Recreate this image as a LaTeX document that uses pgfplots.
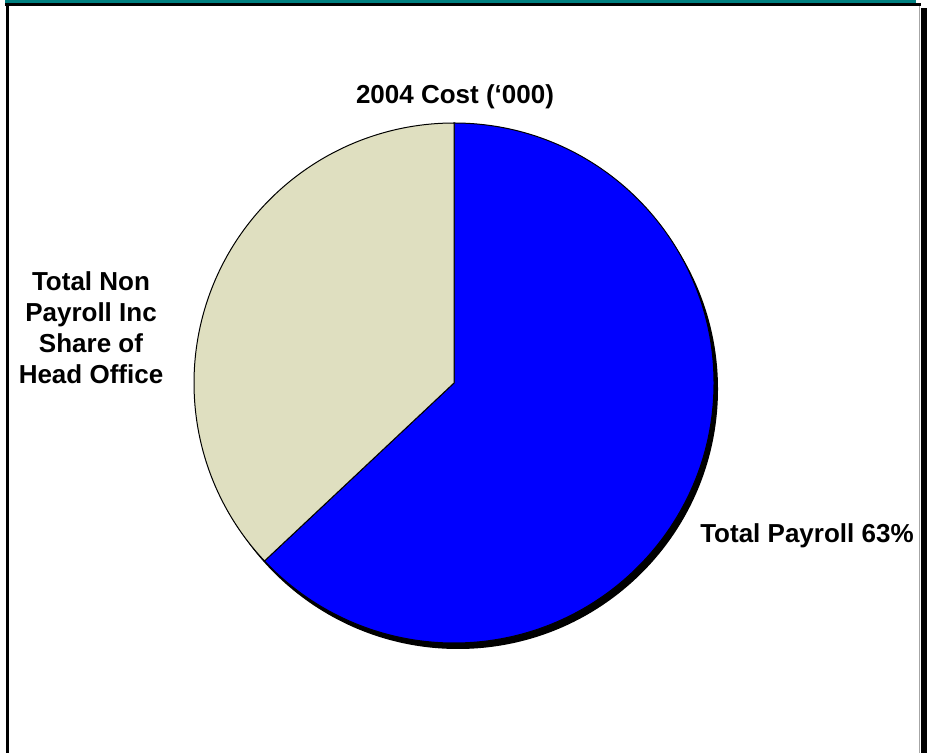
\documentclass[border=0pt]{standalone}
\usepackage{pgfplots}
\pgfplotsset{compat=1.18}
\usepackage{pgfplotstable}
\usepackage{fontspec}
\setmainfont{Liberation Sans}
\definecolor{pieblue}{RGB}{0,0,255}
\definecolor{piebeige}{RGB}{223,223,192}
\definecolor{frameteal}{RGB}{0,128,128}
\pgfplotstableread{
label value
Payroll 63
NonPayroll 37
}\piedata
\begin{document}
\begin{tikzpicture}
\pgfplotstablegetelem{0}{value}\of\piedata
\pgfmathsetmacro\va{\pgfplotsretval}
\pgfplotstablegetelem{1}{value}\of\piedata
\pgfmathsetmacro\vb{\pgfplotsretval}
\pgfmathsetmacro\endA{90-\va*3.6}
\pgfmathsetmacro\endB{\endA-\vb*3.6}
\begin{axis}[
  width=698.25pt, height=564.75pt, scale only axis,
  xmin=0, xmax=931, ymin=0, ymax=753,
  hide axis, clip=false,
]
\coordinate (bl) at (axis cs:0,0);
\coordinate (tr) at (axis cs:931,753);
% frame (y measured from bottom: Y = 753 - y_image)
\fill[frameteal] (axis cs:5,753) rectangle (axis cs:916,750);
\fill[black] (axis cs:5,750) rectangle (axis cs:921,747);
\fill[black] (axis cs:6,747) rectangle (axis cs:9,0);
\draw[gray!70, line width=0.75pt] (axis cs:919,747) -- (axis cs:919,0);
\fill[black] (axis cs:921,745) rectangle (axis cs:927,0);
% pie shadow
\fill[black] (axis cs:458,364) circle[radius=195pt];
% slices
\filldraw[fill=pieblue, draw=black, line width=0.75pt]
  (axis cs:454,370) -- ++(90:195pt) arc[start angle=90, end angle=\endA, radius=195pt] -- cycle;
\filldraw[fill=piebeige, draw=black, line width=0.75pt]
  (axis cs:454,370) -- ++(\endA:195pt) arc[start angle=\endA, end angle=\endB, radius=195pt] -- cycle;
% labels
\tikzset{lbl/.style={font=\bfseries\fontsize{19.5}{22}\selectfont, inner sep=0pt}}
\node[lbl, anchor=base] at (axis cs:455,649) {2004 Cost (`000)};
\node[lbl, anchor=base west] at (axis cs:700,210) {Total Payroll 63\%};
\node[lbl, anchor=base] at (axis cs:91,462.5) {Total Non};
\node[lbl, anchor=base] at (axis cs:91,431.5) {Payroll Inc};
\node[lbl, anchor=base] at (axis cs:91,400.5) {Share of};
\node[lbl, anchor=base] at (axis cs:91,369.5) {Head Office};
\end{axis}
\pgfresetboundingbox
\path[use as bounding box] (bl) rectangle (tr);
\end{tikzpicture}
\end{document}
